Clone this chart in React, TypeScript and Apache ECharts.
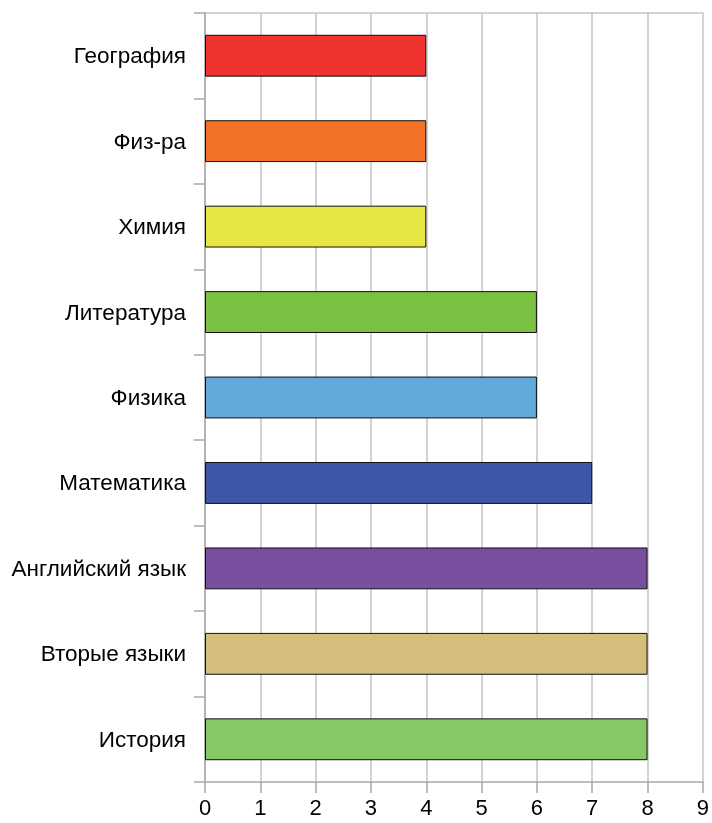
import React, { useEffect, useRef } from "react";
import * as echarts from "echarts";

const categories = [
  "История",
  "Вторые языки",
  "Английский язык",
  "Математика",
  "Физика",
  "Литература",
  "Химия",
  "Физ-ра",
  "География",
];
const values = [8, 8, 8, 7, 6, 6, 4, 4, 4];
const colors = [
  "#86c866",
  "#d5bd7c",
  "#7a4e9e",
  "#3e57a6",
  "#62a9dc",
  "#7bc244",
  "#e6e645",
  "#f37027",
  "#ef3330",
];
const xTicks = [0, 1, 2, 3, 4, 5, 6, 7, 8, 9];

export default function App() {
  const ref = useRef<HTMLDivElement>(null);
  useEffect(() => {
    if (!ref.current) return;
    const chart = echarts.init(ref.current, null, { renderer: "svg" });
    const font = "'Liberation Sans', Arial, Helvetica, sans-serif";
    chart.setOption({
      animation: false,
      grid: { left: 205, right: 6, top: 13, bottom: 41 },
      xAxis: [
        {
          type: "value",
          min: xTicks[0],
          max: xTicks[xTicks.length - 1],
          interval: 1,
          position: "bottom",
          axisLine: { show: true, lineStyle: { color: "#a8a8a8", width: 1.5 } },
          axisTick: { show: true, length: 11, lineStyle: { color: "#a8a8a8", width: 1.5 } },
          axisLabel: { color: "#000", fontSize: 22, fontFamily: font, margin: 14 },
          splitLine: { show: true, lineStyle: { color: "#c4c4c4", width: 1.5 } },
        },
        {
          type: "value",
          min: 0,
          max: 9,
          interval: 1,
          position: "top",
          axisLine: { show: true, lineStyle: { color: "#c4c4c4", width: 1.5 } },
          axisTick: { show: false },
          axisLabel: { show: false },
          splitLine: { show: false },
        },
      ],
      yAxis: {
        type: "category",
        data: categories,
        axisLine: { show: true, lineStyle: { color: "#a8a8a8", width: 1.5 } },
        axisTick: { show: true, length: 11, lineStyle: { color: "#a8a8a8", width: 1.5 } },
        axisLabel: { color: "#000", fontSize: 22.5, fontFamily: font, margin: 19 },
        splitLine: { show: false },
      },
      series: [
        {
          type: "bar",
          xAxisIndex: 0,
          barWidth: "49%",
          data: values.map((v, i) => ({
            value: v,
            itemStyle: { color: colors[i], borderColor: "#111", borderWidth: 1 },
          })),
        },
      ],
    });
    return () => chart.dispose();
  }, []);
  return (
    <div
      ref={ref}
      style={{ position: "fixed", left: 0, top: 0, width: 712, height: 823 }}
    />
  );
}
